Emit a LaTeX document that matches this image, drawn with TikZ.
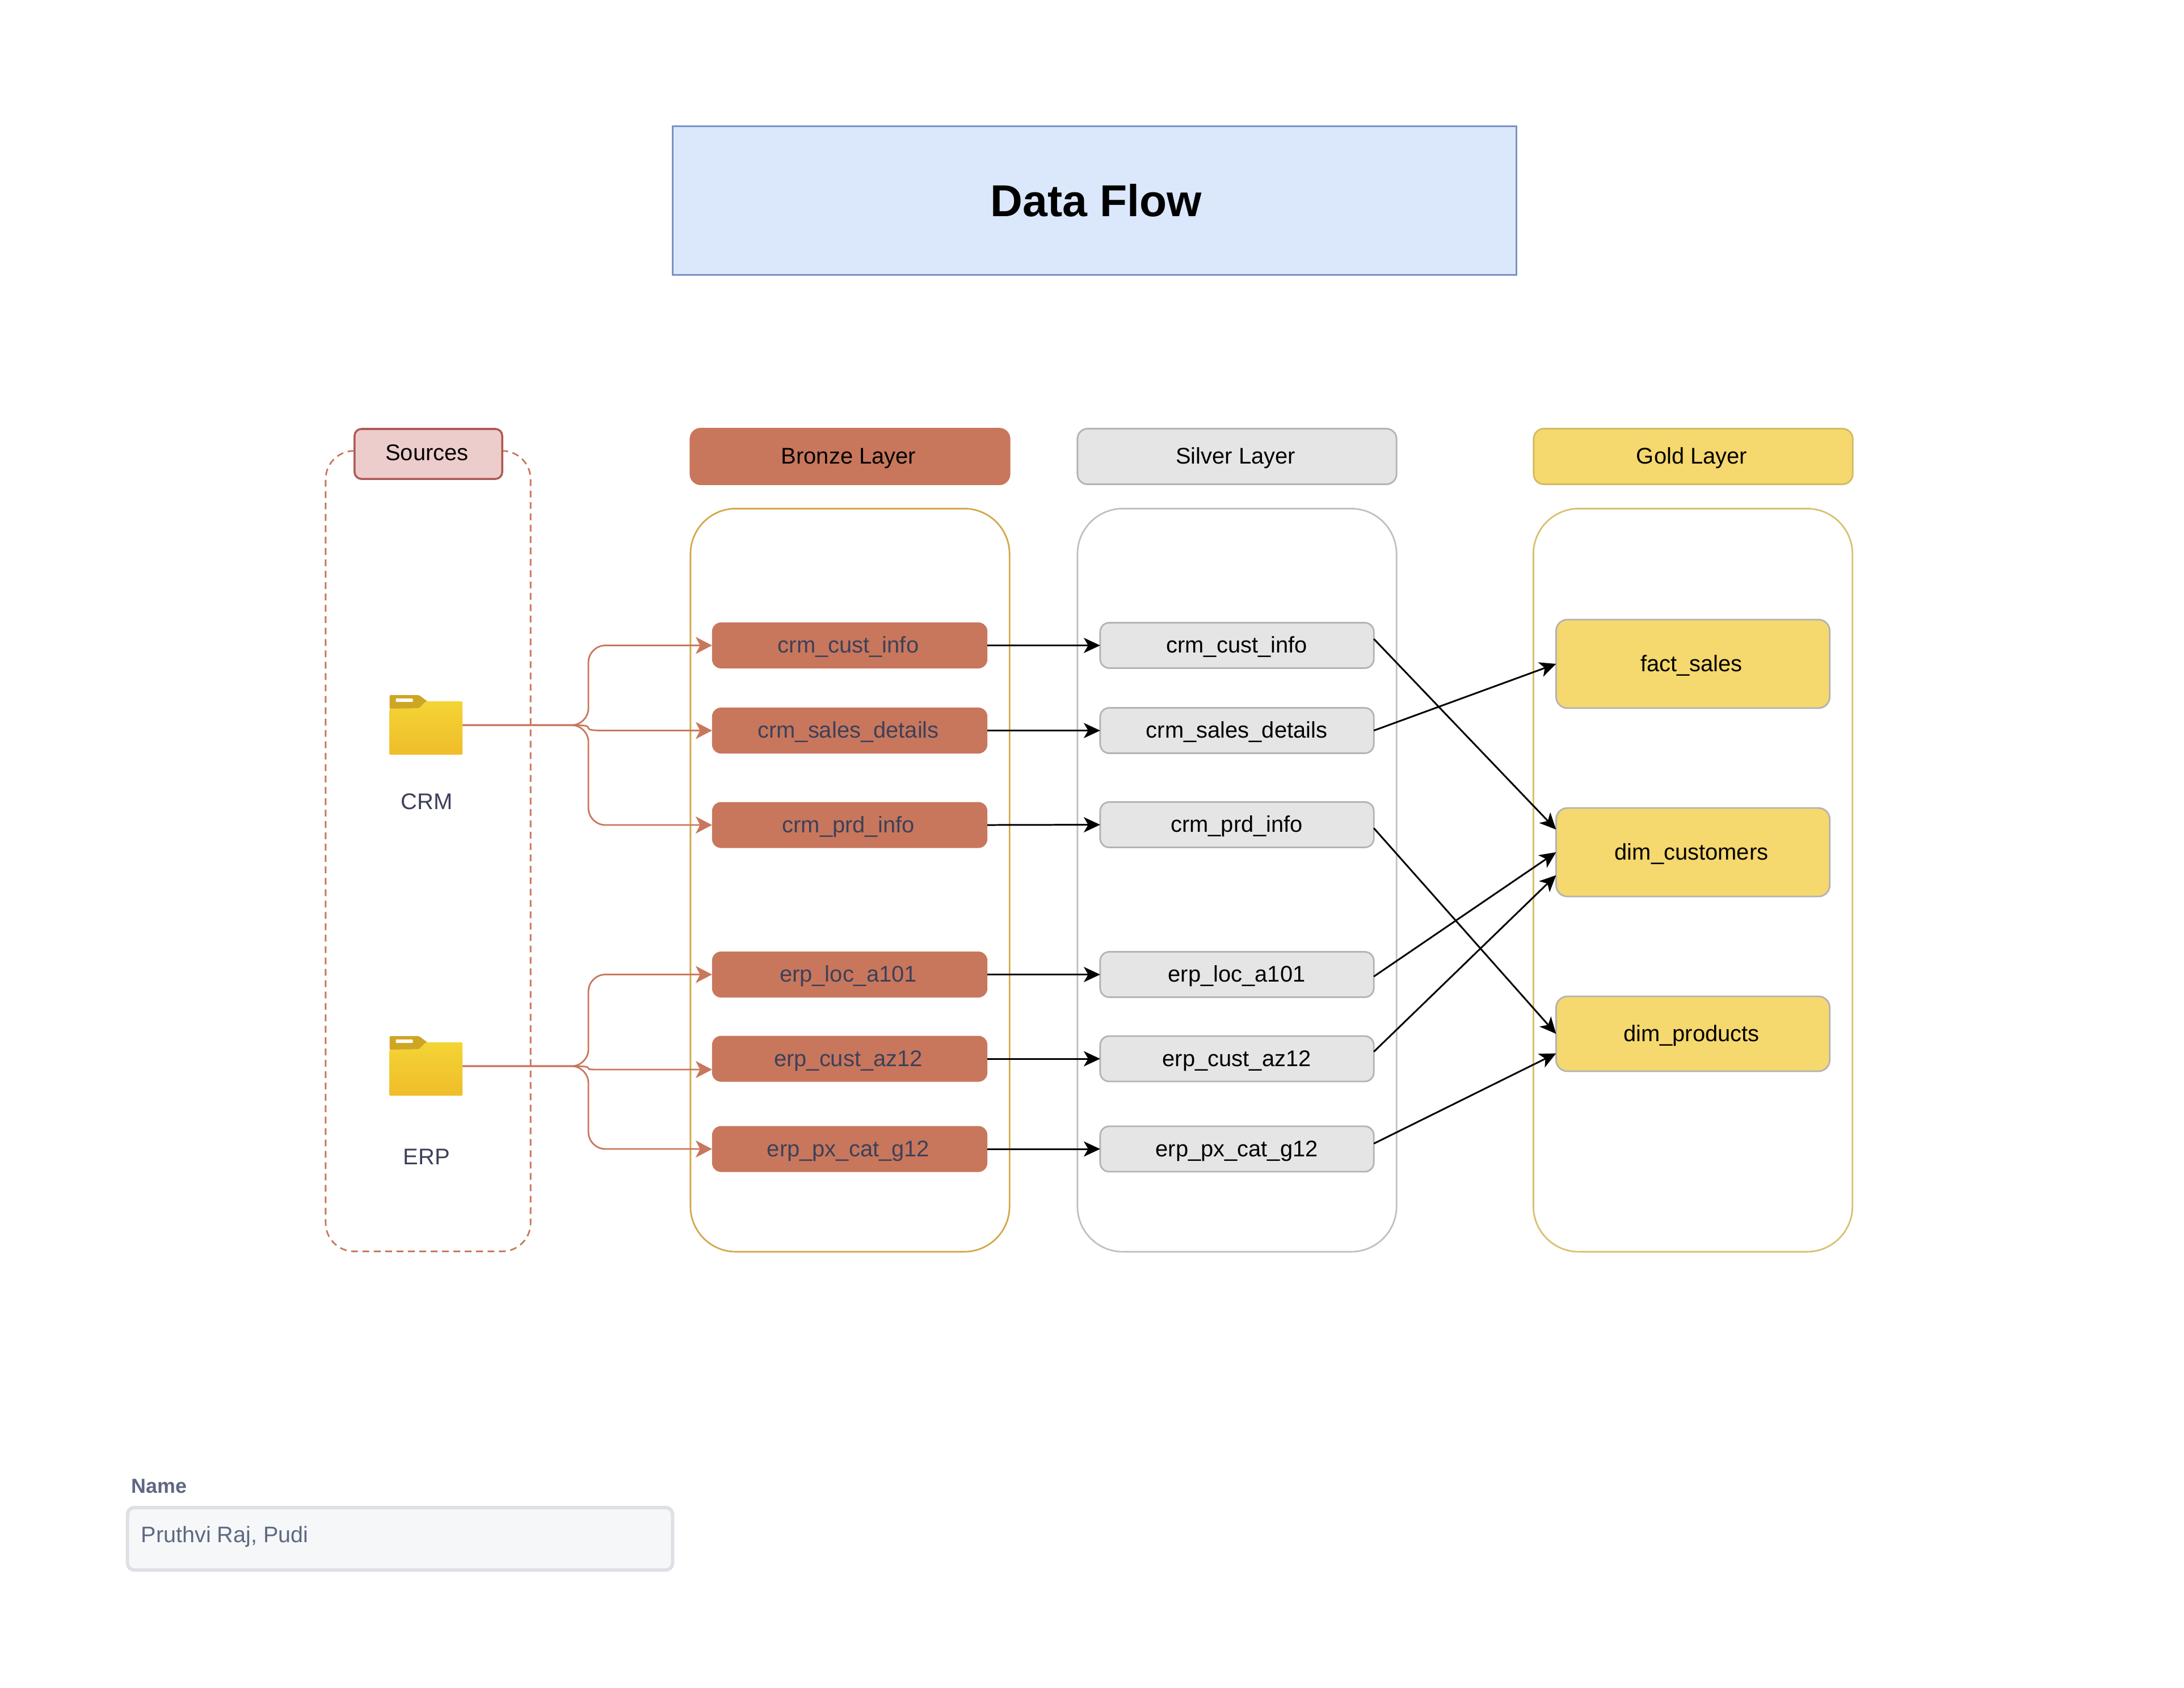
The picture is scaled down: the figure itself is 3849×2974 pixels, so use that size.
\documentclass[tikz,border=0pt]{standalone}
\usepackage{fontspec}
\setmainfont{Liberation Sans}
\usetikzlibrary{arrows.meta,calc}
\definecolor{bronze}{HTML}{C8775C}
\definecolor{bronzeline}{HTML}{D4A84B}
\definecolor{silverfill}{HTML}{E5E5E5}
\definecolor{silverline}{HTML}{B3B3B3}
\definecolor{silverbox}{HTML}{C0C0C0}
\definecolor{goldfill}{HTML}{F5D86E}
\definecolor{goldline}{HTML}{D2BA60}
\definecolor{goldbox}{HTML}{D6C26F}
\definecolor{slate}{HTML}{3D4059}
\definecolor{namegrey}{HTML}{5F6881}
\definecolor{fieldfill}{HTML}{F6F7F9}
\definecolor{fieldline}{HTML}{DFE0E5}
\definecolor{titlefill}{HTML}{DBE7FB}
\definecolor{titleline}{HTML}{7A91C3}
\definecolor{srcfill}{HTML}{EDCDCB}
\definecolor{srcline}{HTML}{AE5A56}
\definecolor{tabgold}{HTML}{CFA525}
\definecolor{foldtop}{HTML}{F4D435}
\definecolor{foldbot}{HTML}{EFBD2A}
\tikzset{
  x=0.01cm,y=-0.01cm,
  txt/.style={font=\fontsize{11.35}{13}\selectfont,text height=8.4pt,text depth=1pt,inner sep=0pt,outer sep=0pt,execute at end node={\kern1.4pt}},
  txtmid/.style={font=\fontsize{11.35}{13}\selectfont,text height=8.4pt,text depth=1pt,inner sep=0pt,outer sep=0pt,execute at end node={\kern0.2pt}},
  header/.style={txt,rounded corners=0.18cm,minimum width=5.62cm,minimum height=0.98cm,line width=0.8pt},
  container/.style={draw,rounded corners=0.8cm,line width=0.8pt,minimum width=5.62cm,minimum height=13.09cm,inner sep=0pt,outer sep=0pt},
  btable/.style={txt,fill=bronze,text=slate,rounded corners=0.16cm,minimum width=4.85cm,minimum height=0.81cm},
  stable/.style={txtmid,draw=silverline,fill=silverfill,rounded corners=0.16cm,minimum width=4.82cm,minimum height=0.8cm,line width=0.8pt},
  gtable/.style={txt,draw=silverline,fill=goldfill,rounded corners=0.2cm,minimum width=4.82cm,line width=0.8pt},
  flow/.style={-{Stealth[length=8.2pt,width=7.6pt,inset=2.2pt]},line width=0.85pt,black},
  feed/.style={-{Stealth[length=8.2pt,width=8.5pt,inset=2.2pt]},line width=0.8pt,bronze,rounded corners=0.3cm},
  folderanchor/.style={inner sep=0pt,outer sep=0pt,minimum width=1.285cm,minimum height=1cm},
  lab/.style={font=\fontsize{11.35}{13}\selectfont,text=slate,inner sep=0pt,anchor=base},
}
\newcommand{\folderat}[2]{%
  \begin{scope}[shift={(#1,#2)}]
    \fill[tabgold,rounded corners=0.02cm] (0,0) -- (52,0) -- (68,12) -- (52,24) -- (0,24) -- cycle;
    \shade[top color=foldtop,bottom color=foldbot,rounded corners=0.015cm] (0,24) -- (52,23) -- (64,11) -- (128.5,11) -- (128.5,105) -- (0,105) -- cycle;
    \fill[white,rounded corners=0.01cm] (11,6) rectangle (41,12);
  \end{scope}}
\begin{document}
\begin{tikzpicture}
\useasboundingbox (0,0) rectangle (3849,2974);
% title
\node[draw=titleline,fill=titlefill,line width=0.8pt,minimum width=14.86cm,minimum height=2.62cm,inner sep=0pt,font=\fontsize{22.4}{26}\bfseries\selectfont,execute at end node={\kern-1.6pt}] (title) at (1929,353.7) {Data Flow};
% containers
\node[container,draw=bronze,dashed,dash pattern=on 3.4pt off 2.3pt,minimum width=3.61cm,minimum height=14.1cm,rounded corners=0.5cm] (srcbox) at (754.5,1500) {};
\node[container,draw=bronzeline] (bbox) at (1498,1551.2) {};
\node[container,draw=silverbox] (sbox) at (2180,1551.2) {};
\node[container,draw=goldbox] (gbox) at (2983.5,1551.2) {};
% headers
\node[txt,text height=7.3pt,draw=srcline,fill=srcfill,rounded corners=0.12cm,line width=1pt,minimum width=2.6cm,minimum height=0.88cm] (srchead) at (755,800) {Sources};
\node[header,draw=bronze,fill=bronze] (bhead) at (1498,804.5) {Bronze Layer};
\node[header,draw=silverline,fill=silverfill] (shead) at (2180,804.5) {Silver Layer};
\node[header,draw=goldline,fill=goldfill] (ghead) at (2984,804.5) {Gold Layer};
% folders
\folderat{686.5}{1225}
\folderat{686.5}{1826}
\node[folderanchor] (crm) at (751,1278) {};
\node[folderanchor] (erp) at (751,1879) {};
\node[lab] (crmlab) at (752,1426) {CRM};
\node[lab] (erplab) at (752,2052) {ERP};
% bronze tables
\node[btable] (b1) at (1497.5,1137.5) {crm\_cust\_info};
\node[btable] (b2) at (1497.5,1287.5) {crm\_sales\_details};
\node[btable] (b3) at (1497.5,1454) {crm\_prd\_info};
\node[btable] (b4) at (1497.5,1717.5) {erp\_loc\_a101};
\node[btable] (b5) at (1497.5,1866) {erp\_cust\_az12};
\node[btable] (b6) at (1497.5,2025) {erp\_px\_cat\_g12};
% silver tables
\node[stable] (s1) at (2180,1137.5) {crm\_cust\_info};
\node[stable] (s2) at (2180,1287.5) {crm\_sales\_details};
\node[stable] (s3) at (2180,1453.5) {crm\_prd\_info};
\node[stable] (s4) at (2180,1717.5) {erp\_loc\_a101};
\node[stable] (s5) at (2180,1866) {erp\_cust\_az12};
\node[stable] (s6) at (2180,2025) {erp\_px\_cat\_g12};
% gold tables
\node[gtable,minimum height=1.56cm] (g1) at (2983.5,1170) {fact\_sales};
\node[gtable,minimum height=1.56cm] (g2) at (2983.5,1502) {dim\_customers};
\node[gtable,minimum height=1.32cm] (g3) at (2983.5,1822) {dim\_products};
% source feeds
\coordinate (cj) at (1037,1278);
\coordinate (ej) at (1037,1879);
\draw[feed] (crm.east) -- (cj) |- (b1.west);
\draw[feed] (crm.east) -- (cj) |- (b3.west);
\draw[feed,rounded corners=0pt] (crm.east) -- (1008,1278) .. controls (1030,1278) and (1037,1279) .. (1037,1283) .. controls (1037,1286) and (1042,1287.5) .. (1065,1287.5) -- (b2.west);
\draw[feed] (erp.east) -- (ej) |- (b4.west);
\draw[feed] (erp.east) -- (ej) |- (b6.west);
\draw[feed,rounded corners=0pt] (erp.east) -- (1008,1879) .. controls (1030,1879) and (1037,1880) .. (1037,1883) .. controls (1037,1885) and (1042,1885) .. (1065,1885) -- ($(b5.west)+(0,19)$);
% bronze to silver
\draw[flow] (b1.east) -- (s1.west);
\draw[flow] (b2.east) -- (s2.west);
\draw[flow] (b3.east) -- (s3.west);
\draw[flow] (b4.east) -- (s4.west);
\draw[flow] (b5.east) -- (s5.west);
\draw[flow] (b6.east) -- (s6.west);
% silver to gold
\draw[flow] ($(s1.east)+(0,-11.5)$) -- ($(g2.west)+(0,-40)$);
\draw[flow] (s2.east) -- (g1.west);
\draw[flow] ($(s3.east)+(0,6)$) -- (g3.west);
\draw[flow] ($(s4.east)+(0,3.5)$) -- (g2.west);
\draw[flow] ($(s5.east)+(0,-12.4)$) -- ($(g2.west)+(0,40.5)$);
\draw[flow] ($(s6.east)+(0,-9.5)$) -- ($(g3.west)+(0,34.5)$);
% name field
\node[font=\fontsize{10.2}{12}\bfseries\selectfont,text=namegrey,inner sep=0pt,anchor=base west] (namelab) at (231,2631) {Name};
\node[draw=fieldline,fill=fieldfill,line width=1.7pt,rounded corners=0.12cm,minimum width=9.6cm,minimum height=1.1cm,inner sep=0pt] (field) at (705,2712) {};
\node[font=\fontsize{11.25}{13}\selectfont,text=namegrey,inner sep=0pt,anchor=base west] (fieldtext) at (248,2718) {Pruthvi Raj, Pudi};
\end{tikzpicture}
\end{document}
